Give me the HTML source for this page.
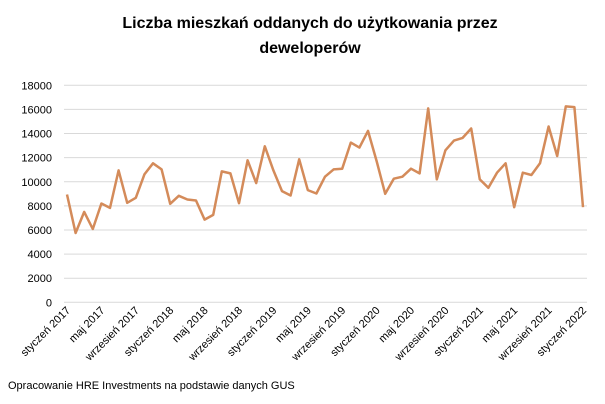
<!DOCTYPE html>
<html><head><meta charset="utf-8"><style>
body{margin:0;background:#fff;}
svg{display:block;font-family:"Liberation Sans","DejaVu Sans",sans-serif;}
</style></head><body>
<svg width="605" height="404" viewBox="0 0 605 404" xmlns="http://www.w3.org/2000/svg">
<rect width="605" height="404" fill="#fff"/>
<text x="310" y="28" text-anchor="middle" font-size="16" font-weight="bold" fill="#000">Liczba mieszkań oddanych do użytkowania przez</text>
<text x="310" y="53" text-anchor="middle" font-size="16" font-weight="bold" fill="#000">deweloperów</text>
<g id="grid" stroke="#d9d9d9" stroke-width="1"></g>
<g id="yl" font-size="11" fill="#000" text-anchor="end"></g>
<g id="xl" font-size="11" fill="#000" text-anchor="end"></g>
<polyline id="ln" fill="none" stroke="#D48B5A" stroke-width="2.5" stroke-linejoin="round"/>
<text x="8" y="389" font-size="11" fill="#000">Opracowanie HRE Investments na podstawie danych GUS</text>
</svg>
<script>
var ns="http://www.w3.org/2000/svg";
function Y(v){return 302.3-v/2000*24.11;}
var g=document.getElementById('grid'),yl=document.getElementById('yl'),xl=document.getElementById('xl');
for(var v=0;v<=18000;v+=2000){var l=document.createElementNS(ns,'line');l.setAttribute('x1',64);l.setAttribute('x2',587);l.setAttribute('y1',Y(v));l.setAttribute('y2',Y(v));g.appendChild(l);
var t=document.createElementNS(ns,'text');t.setAttribute('x',52);t.setAttribute('y',Y(v)+4);t.textContent=v;yl.appendChild(t);}
var d=[8944,5750,7500,6083,8194,7833,10944,8250,8667,10611,11528,11028,8167,8833,8528,8444,6861,7250,10861,10694,8222,11778,9889,12944,10944,9222,8861,11861,9306,9028,10417,11028,11083,13250,12833,14222,11722,9000,10250,10417,11083,10694,16083,10194,12611,13417,13639,14417,10194,9500,10750,11528,7889,10750,10556,11528,14583,12139,16250,16194,7889];
var p=[];for(var i=0;i<d.length;i++){p.push((67+i*8.6).toFixed(1)+','+Y(d[i]).toFixed(1));}
document.getElementById('ln').setAttribute('points',p.join(' '));
var labs=['styczeń 2017','maj 2017','wrzesień 2017','styczeń 2018','maj 2018','wrzesień 2018','styczeń 2019','maj 2019','wrzesień 2019','styczeń 2020','maj 2020','wrzesień 2020','styczeń 2021','maj 2021','wrzesień 2021','styczeń 2022'];
for(var k=0;k<labs.length;k++){var x=67+k*4*8.6+4,y=311;var t=document.createElementNS(ns,'text');t.setAttribute('x',x);t.setAttribute('y',y);t.setAttribute('transform','rotate(-45 '+x+' '+y+')');t.textContent=labs[k];xl.appendChild(t);}
</script>
</body></html>
